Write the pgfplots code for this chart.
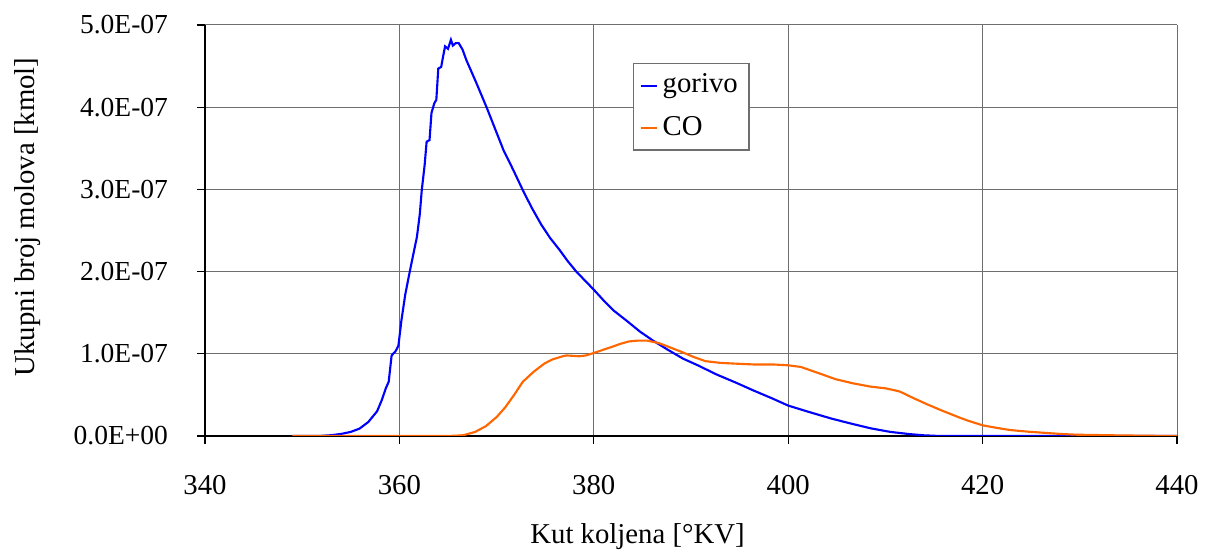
\documentclass[border=0pt]{standalone}
\usepackage{fontspec}
\setmainfont{Liberation Serif}
\usepackage{pgfplots}
\pgfplotsset{compat=1.18}
\usepackage{pgfplotstable}
\definecolor{gorivoblue}{RGB}{0,0,255}
\definecolor{coorange}{RGB}{255,102,0}
\definecolor{gridgray}{RGB}{110,110,110}

\pgfplotstableread{
x y
349 0
351 0
352 0.002e-7
353 0.01e-7
354 0.025e-7
355 0.05e-7
355.9 0.09e-7
356.8 0.17e-7
357.7 0.30e-7
358.2 0.44e-7
358.6 0.58e-7
358.9 0.66e-7
359.2 0.98e-7
359.6 1.03e-7
359.9 1.10e-7
360.2 1.40e-7
360.6 1.72e-7
361.1 2.02e-7
361.5 2.25e-7
361.8 2.42e-7
362.1 2.70e-7
362.3 2.99e-7
362.6 3.30e-7
362.8 3.58e-7
363.1 3.60e-7
363.3 3.93e-7
363.6 4.05e-7
363.8 4.09e-7
364.0 4.47e-7
364.3 4.49e-7
364.5 4.62e-7
364.7 4.74e-7
365.0 4.71e-7
365.3 4.82e-7
365.5 4.75e-7
365.8 4.78e-7
366.1 4.78e-7
366.5 4.70e-7
366.9 4.57e-7
367.9 4.30e-7
369.0 3.99e-7
369.5 3.84e-7
370.7 3.48e-7
371.7 3.24e-7
372.7 2.99e-7
373.6 2.78e-7
374.6 2.57e-7
375.5 2.41e-7
376.5 2.26e-7
377.3 2.13e-7
378.2 2.00e-7
379.1 1.89e-7
380.0 1.78e-7
381.0 1.65e-7
382.0 1.53e-7
383.4 1.40e-7
384.75 1.27e-7
386.1 1.16e-7
387.6 1.05e-7
389.2 0.94e-7
390.7 0.86e-7
392.6 0.75e-7
394.6 0.65e-7
396.5 0.55e-7
398.3 0.46e-7
400.0 0.37e-7
402.2 0.29e-7
404.5 0.21e-7
406.5 0.15e-7
408.5 0.093e-7
410.5 0.05e-7
412.4 0.024e-7
414.0 0.008e-7
415.6 0
425 0
440 0
}\gorivo

\pgfplotstableread{
x y
349 0
365 0
366 0.005e-7
366.6 0.01e-7
367.8 0.05e-7
368.9 0.12e-7
370.0 0.23e-7
370.9 0.35e-7
371.8 0.50e-7
372.7 0.66e-7
373.8 0.78e-7
374.9 0.88e-7
375.7 0.93e-7
376.8 0.97e-7
377.2 0.98e-7
378.5 0.97e-7
379.2 0.98e-7
380.0 1.01e-7
381.0 1.05e-7
382.0 1.09e-7
382.7 1.12e-7
383.6 1.15e-7
384.5 1.16e-7
385.5 1.16e-7
386.7 1.13e-7
387.8 1.08e-7
389.1 1.02e-7
390.3 0.96e-7
391.5 0.91e-7
393.0 0.89e-7
394.6 0.88e-7
396.5 0.87e-7
398.5 0.87e-7
400.0 0.86e-7
401.3 0.84e-7
403.0 0.77e-7
404.9 0.69e-7
406.7 0.64e-7
408.5 0.60e-7
410.0 0.58e-7
410.8 0.56e-7
411.5 0.54e-7
412.9 0.46e-7
414.4 0.38e-7
415.8 0.31e-7
417.5 0.23e-7
418.4 0.19e-7
420.0 0.13e-7
421.4 0.10e-7
422.8 0.073e-7
424.9 0.05e-7
426.2 0.04e-7
428.0 0.025e-7
429.6 0.016e-7
433.7 0.008e-7
437 0.003e-7
440 0
}\co

\begin{document}
\fontsize{11.5pt}{13.5pt}\selectfont
\begin{tikzpicture}
\begin{axis}[
  scale only axis,
  width=388.8pt, height=164.4pt,
  xmin=340, xmax=440, ymin=0, ymax=5e-7,
  xtick={340,360,380,400,420,440},
  ytick={0,1e-7,2e-7,3e-7,4e-7,5e-7},
  yticklabels={0.0E+00,1.0E-07,2.0E-07,3.0E-07,4.0E-07,5.0E-07},
  scaled y ticks=false,
  /pgf/number format/assume math mode=true,
  axis x line*=bottom, axis y line*=left,
  axis line style={black, line width=0.5pt, -},
  tick align=outside, major tick length=3.2pt,
  tick style={black, line width=0.5pt},
  grid=major,
  major grid style={gridgray, line width=0.4pt},
  xticklabel style={font=\fontsize{11.5pt}{13.5pt}\selectfont},
  yticklabel style={font=\fontsize{11pt}{13pt}\selectfont},
  yticklabel shift=7.6pt,
  xticklabel shift=8.4pt,
  xlabel={Kut koljena [°KV]},
  ylabel={Ukupni broj molova [kmol]},
  label style={font=\fontsize{11.5pt}{13.5pt}\selectfont},
  xlabel style={at={(axis description cs:0.445,0)}, anchor=center, yshift=-40.2pt},
  ylabel style={at={(axis description cs:-0.182,0.533)}, anchor=center},
  legend style={at={(axis description cs:0.44,0.908)}, anchor=north west,
    draw=gridgray, line width=0.5pt, font=\fontsize{11.5pt}{13.5pt}\selectfont,
    inner xsep=2.5pt, inner ysep=2.2pt, row sep=3.5pt},
  legend cell align=left,
  legend image code/.code={\draw[#1, line width=0.85pt] (0pt,0pt) -- (6.4pt,0pt);},
]
\addplot[gorivoblue, line width=0.85pt] table[x=x,y=y]{\gorivo};
\addlegendentry{gorivo}
\addplot[coorange, line width=0.85pt] table[x=x,y=y]{\co};
\addlegendentry{CO}
\end{axis}
\pgfresetboundingbox
\path ([shift={(-82pt,-47.2pt)}]current axis.south west) rectangle ([shift={(12.8pt,10pt)}]current axis.north east);
\end{tikzpicture}
\end{document}
